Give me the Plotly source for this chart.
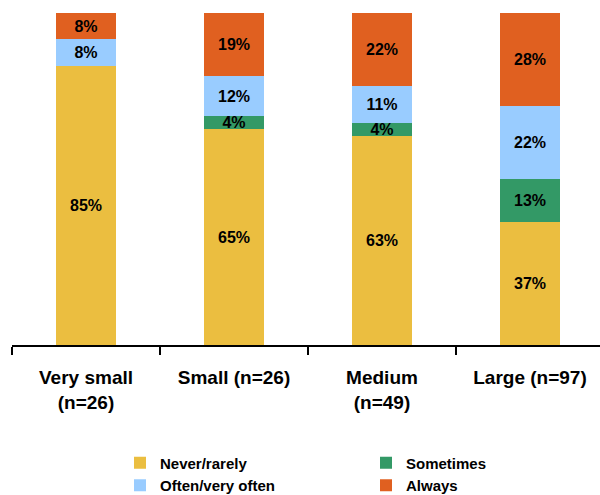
import plotly.graph_objects as go

categories = ["Very small<br>(n=26)", "Small (n=26)", "Medium<br>(n=49)", "Large (n=97)"]
never_rarely = [85, 65, 63, 37]
sometimes = [None, 4, 4, 13]
often = [8, 12, 11, 22]
always = [8, 19, 22, 28]

series = [
    ("Never/rarely", never_rarely, "#EBBE40"),
    ("Sometimes", sometimes, "#339966"),
    ("Often/very often", often, "#99CCFF"),
    ("Always", always, "#E06020"),
]

FONT = "Liberation Sans, Arial, sans-serif"

fig = go.Figure()
for name, vals, color in series:
    fig.add_trace(go.Bar(
        x=categories, y=vals, name=name,
        marker=dict(color=color, line=dict(width=0)),
        text=[f"{v}%" if v else "" for v in vals],
        textposition="inside", insidetextanchor="middle", textangle=0,
        textfont=dict(family=FONT, size=16, color="black", weight="bold"),
        hoverinfo="skip",
    ))

fig.update_layout(
    barmode="stack",
    barnorm="percent",
    bargap=0.595,
    width=600, height=495,
    margin=dict(l=12, r=0, t=13, b=150),
    paper_bgcolor="white", plot_bgcolor="white",
    uniformtext=dict(minsize=16, mode="show"),
    showlegend=True,
    legend=dict(
        orientation="h", xref="container", yref="container",
        x=0.2, xanchor="left", y=0.098, yanchor="top",
        entrywidth=201, entrywidthmode="pixels",
        font=dict(family=FONT, size=15, color="black", weight="bold"),
        itemwidth=30, tracegroupgap=0, traceorder="normal",
    ),
    xaxis=dict(
        type="category", range=[-0.5, 3.473],
        showline=True, linecolor="black", linewidth=2,
        ticks="outside", tickson="boundaries", ticklen=8, tickwidth=2, tickcolor="black",
        ticklabelstandoff=14,
        tickfont=dict(family=FONT, size=19, color="black", weight="bold"),
        showgrid=False,
    ),
    yaxis=dict(range=[0, 100], visible=False, showgrid=False),
)

fig.write_html("out.html")
